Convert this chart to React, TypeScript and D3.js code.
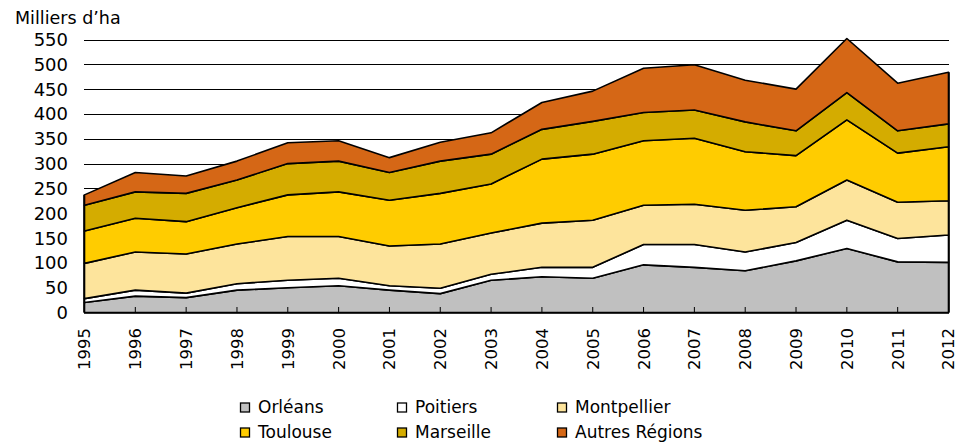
import React from "react";
import * as d3 from "d3";

const years = [1995, 1996, 1997, 1998, 1999, 2000, 2001, 2002, 2003, 2004, 2005, 2006, 2007, 2008, 2009, 2010, 2011, 2012];
const orleans = [20, 33, 30, 45, 50, 54, 45, 38, 65, 72, 69, 96, 91, 84, 104, 129, 102, 101];
const poitiers = [8, 12, 9, 13, 15, 15, 9, 11, 12, 19, 22, 41, 46, 38, 37, 57, 47, 55];
const montpellier = [71, 77, 79, 80, 88, 84, 80, 89, 83, 89, 95, 79, 81, 84, 72, 81, 73, 69];
const toulouse = [65, 68, 65, 73, 84, 90, 92, 102, 99, 129, 133, 130, 133, 118, 103, 121, 99, 109];
const marseille = [52, 53, 57, 56, 63, 62, 56, 65, 60, 60, 66, 57, 57, 60, 50, 55, 45, 46];
const autres = [21, 39, 35, 38, 42, 41, 30, 38, 43, 54, 61, 89, 91, 84, 84, 109, 96, 104];

const seriesNames = ["Orléans", "Poitiers", "Montpellier", "Toulouse", "Marseille", "Autres Régions"];
const seriesValues = [orleans, poitiers, montpellier, toulouse, marseille, autres];
const colors = ["#c0c0c0", "#ffffff", "#fde49c", "#ffcc00", "#d4ac00", "#d56716"];
const yTicks = [0, 50, 100, 150, 200, 250, 300, 350, 400, 450, 500, 550];
const yTitle = "Milliers d’ha";

const W = 963;
const H = 447;
const FONT = "DejaVu Sans, sans-serif";

export default function App() {
  const x = d3.scaleLinear().domain([years[0], years[years.length - 1]]).range([84.5, 948.5]);
  const y = d3.scaleLinear().domain([0, 550]).range([312.5, 39.5]);

  const table = years.map((yr, i) => {
    const row: Record<string, number> = { year: yr };
    seriesNames.forEach((n, k) => (row[n] = seriesValues[k][i]));
    return row;
  });
  const stacked = d3.stack<Record<string, number>>().keys(seriesNames)(table);
  const area = d3
    .area<any>()
    .x((d) => x(d.data.year))
    .y0((d) => y(d[0]))
    .y1((d) => y(d[1]));

  const legendCols = [244, 401, 561];
  const legendRows = [407, 432];

  return (
    <svg width={W} height={H} style={{ position: "absolute", left: 0, top: 0, background: "#fff" }}>
      <text x={15} y={24} fontFamily={FONT} fontSize={17.5} fill="#000">
        {yTitle}
      </text>
      {yTicks.map((t) => (
        <g key={t}>
          {t > 0 && (
            <line x1={84} x2={949} y1={Math.round(y(t)) + 0.5} y2={Math.round(y(t)) + 0.5} stroke="#000" strokeWidth={1} />
          )}
          <text x={68} y={y(t)} dy="0.36em" textAnchor="end" fontFamily={FONT} fontSize={18} fill="#000">
            {t}
          </text>
        </g>
      ))}
      {stacked.map((s, k) => (
        <path key={s.key} d={area(s as any) || ""} fill={colors[k]} stroke="#000" strokeWidth={1.6} strokeLinejoin="round" />
      ))}
      <line x1={84} x2={949} y1={313} y2={313} stroke="#000" strokeWidth={1.5} />
      <line x1={84} x2={84} y1={y(0)} y2={y(stacked[5][0][1])} stroke="#000" strokeWidth={1.6} />
      <line x1={949} x2={949} y1={y(0)} y2={y(stacked[5][years.length - 1][1])} stroke="#000" strokeWidth={1.6} />
      {years.map((yr) => (
        <g key={yr}>
          <line x1={x(yr)} x2={x(yr)} y1={313} y2={307} stroke="#000" strokeWidth={1} />
          <text
            transform={`translate(${x(yr)},${328}) rotate(-90)`}
            textAnchor="end"
            dy="0.36em"
            fontFamily={FONT}
            fontSize={16.5}
            fill="#000"
          >
            {yr}
          </text>
        </g>
      ))}
      {seriesNames.map((n, k) => {
        const cx = legendCols[k % 3];
        const cy = legendRows[Math.floor(k / 3)];
        return (
          <g key={n}>
            <rect x={cx - 3.5} y={cy - 4} width={9} height={9} fill={colors[k]} stroke="#000" strokeWidth={1.3} />
            <text x={cx + 14} y={cy} dy="0.36em" fontFamily={FONT} fontSize={17} fill="#000">
              {n}
            </text>
          </g>
        );
      })}
    </svg>
  );
}
